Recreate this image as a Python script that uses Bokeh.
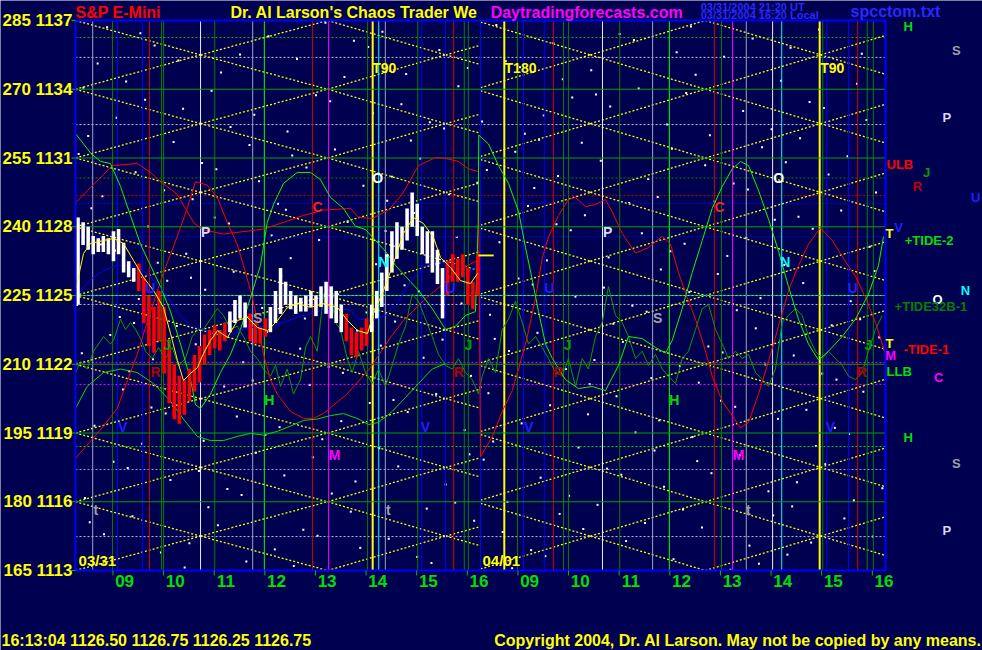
from bokeh.plotting import figure
from bokeh.models import ColumnDataSource
from bokeh.core.properties import value
from bokeh.embed import file_html
from bokeh.resources import INLINE

FONT = "Liberation Sans"
BG = "#000050"

# x = session hours: 0 -> 08:00 03/31, 8 -> 16:00 03/31 == 08:00 04/01, 16 -> 16:00 04/01
T0, T1 = 0.0, 16.0
P0, P1 = 1113.0, 1137.0
hour_pos = [k - 0.03 for k in range(1, 17)]
hour_tick = [k - 0.26 for k in range(1, 17)]
hour_labels = ["09", "10", "11", "12", "13", "14", "15", "16",
               "09", "10", "11", "12", "13", "14", "15", "16"]
price_ticks = [1113, 1116, 1119, 1122, 1125, 1128, 1131, 1134, 1137]
price_labels = ["165 1113", "180 1116", "195 1119", "210 1122", "225 1125",
                "240 1128", "255 1131", "270 1134", "285 1137"]

# ---- vertical time lines (session hours, kind)
vline_t = [0.34, 0.73, 0.83, 1.32, 1.46, 1.70, 1.74, 2.47, 2.75, 3.50, 3.73, 4.68, 5.00,
           5.77, 5.87, 5.99, 6.12, 6.76, 6.84, 7.31, 7.47, 7.68, 7.76, 8.00,
           8.47, 8.73, 8.85, 9.26, 9.44, 9.64, 9.74, 10.41, 10.75, 11.40, 11.73, 12.62,
           12.76, 12.98, 13.25, 13.77, 13.95, 14.70, 14.76, 14.84, 15.27, 15.45, 15.64, 15.76]
vline_kind = ["gr", "dg", "bl", "bl", "rd", "dg", "dg", "wh", "dg", "gr", "lg", "rd", "mg",
              "dg", "ye", "cy", "gr", "dg", "bl", "bl", "rd", "dg", "dg", "bl",
              "ye", "dg", "bl", "bl", "rd", "dg", "dg", "wh", "dg", "gr", "lg", "rd",
              "dg", "mg", "gr", "wh", "cy", "ye", "dg", "bl", "bl", "rd", "dg", "dg"]
KIND_COL = {"gr": "#a0a0c8", "dg": "#008000", "bl": "#0000ff", "rd": "#d00000",
            "wh": "#e8e8ff", "lg": "#00ff00", "mg": "#ff00ff", "ye": "#ffff00", "cy": "#00ffff"}

# ---- horizontal dotted levels
hline_p = [1136.26, 1135.39, 1132.46, 1130.13, 1129.36, 1129.01, 1127.57, 1125.0,
           1124.61, 1122.08, 1121.12, 1118.41, 1117.41, 1114.48]
hline_col = ["#00c000", "#c0c0e0", "#c0c0e0", "#008000", "#c00000", "#0000ff", "#0000ff",
             "#00ffff", "#c0c0e0", "#ff00ff", "#ff00ff", "#00e000", "#a0a0c8", "#c0c0e0"]
green_levels = [1116, 1119, 1122, 1125, 1128, 1131, 1134]

# ---- price/time lattice (yellow dotted)
lat_rows_A = [1110, 1113, 1116, 1119, 1122, 1125, 1128, 1131, 1134, 1137, 1140]
lat_step = 1.5
lat_cols_day1 = [0.0, 2.47, 4.98, 7.31, 9.78]
lat_cols_day2 = [7.90, 10.17, 12.44, 14.72, 16.99]

# ---- curves
red1_t = [0, 0.725, 1.219, 1.481, 1.679, 2.009, 2.331, 2.503, 2.923, 3.318, 3.714, 4.109, 4.504,
          4.899, 5.432, 5.590, 5.861, 6.183, 6.454, 6.775, 7.111, 7.309, 7.565, 7.763, 7.960,
          8.0, 8.231, 8.429, 8.627, 8.751, 8.923, 9.087, 9.219, 9.343, 9.541, 9.738, 9.877,
          10.074, 10.272, 10.469, 10.602, 10.799, 11.062, 11.319, 11.590, 11.753, 11.911,
          12.083, 12.247, 12.405, 12.577, 12.775, 12.972, 13.136, 13.294, 13.492, 13.689,
          13.887, 14.084, 14.281, 14.479, 14.716, 14.947, 15.210, 15.407, 15.605, 15.802,
          15.935, 16.0]
red1_p = [1129.04, 1130.67, 1130.76, 1130.37, 1129.97, 1129.42, 1128.19, 1127.88, 1127.68,
          1127.79, 1127.90, 1128.19, 1128.49, 1128.73, 1128.80, 1128.41, 1128.36, 1128.73,
          1129.42, 1130.67, 1131.02, 1130.98, 1130.85, 1130.52, 1130.41,
          1117.97, 1118.83, 1119.94, 1120.85, 1121.79, 1123.19, 1124.91, 1126.62, 1127.56,
          1128.49, 1129.19, 1129.28, 1128.88, 1128.97, 1129.19, 1128.65, 1127.71, 1126.85,
          1127.09, 1127.59, 1127.24, 1126.00, 1124.91, 1123.97, 1122.88, 1121.48, 1120.39,
          1119.76, 1119.22, 1119.46, 1120.70, 1122.12, 1123.66, 1125.22, 1126.31, 1127.24,
          1127.95, 1127.40, 1126.47, 1125.84, 1124.91, 1123.82, 1122.88, 1122.43]

red2_t = [0, 0.553, 0.824, 1.219, 1.481, 1.738, 2.009, 2.206, 2.370, 2.601, 2.799, 2.997,
          3.194, 3.318, 3.457, 3.589, 3.714, 3.852, 3.984, 4.247, 4.504, 4.701, 4.899, 5.373,
          5.827, 6.222, 6.479, 6.874, 7.269, 7.546, 7.941]
red2_p = [1117.89, 1119.30, 1120.07, 1122.43, 1124.30, 1126.00, 1127.57, 1128.80, 1129.97,
          1129.82, 1129.28, 1128.19, 1127.24, 1126.31, 1125.22, 1123.97, 1122.43, 1121.33,
          1120.70, 1119.94, 1119.64, 1119.64, 1119.85, 1120.72, 1121.86, 1123.17, 1123.91,
          1124.78, 1125.52, 1126.09, 1126.53]

tide2_t = [0, 0.296, 0.494, 0.691, 0.889, 1.086, 1.284, 1.481, 1.679, 1.877, 2.074, 2.272,
           2.370, 2.469, 2.667, 2.864, 3.062, 3.259, 3.457, 3.654, 3.787, 3.911, 4.109, 4.379,
           4.642, 4.839, 5.037, 5.294, 5.432, 5.531, 5.728, 5.926, 6.123, 6.321, 6.519, 6.775,
           7.046, 7.309, 7.506, 7.704, 7.901, 7.955, 7.966, 8.158, 8.356, 8.553, 8.751, 8.889,
           9.021, 9.146, 9.284, 9.417, 9.679, 9.936, 10.207, 10.469, 10.726, 10.923, 11.194,
           11.457, 11.654, 11.787, 11.984, 12.182, 12.380, 12.577, 12.775, 12.972, 13.136,
           13.294, 13.492, 13.689, 13.887, 14.084, 14.281, 14.479, 14.677, 14.874, 15.145,
           15.407, 15.664, 15.862, 15.960]
tide2_p = [1132.07, 1131.22, 1130.85, 1130.76, 1129.76, 1128.49, 1127.24, 1126.31, 1125.39,
           1124.30, 1122.88, 1121.33, 1120.24, 1120.07, 1120.70, 1121.64, 1122.43, 1123.52,
           1124.91, 1126.31, 1128.19, 1128.97, 1129.89, 1130.37, 1130.37, 1130.06, 1129.28,
           1128.80, 1128.33, 1128.02, 1127.88, 1127.40, 1126.93, 1126.31, 1125.84, 1125.22,
           1124.43, 1123.52, 1123.66, 1124.13, 1124.30, 1128.19, 1132.00, 1131.61, 1130.67,
           1129.89, 1128.67, 1127.09, 1125.70, 1124.30, 1122.88, 1122.26, 1121.33, 1120.94,
           1121.03, 1120.85, 1121.95, 1123.21, 1123.12, 1122.73, 1122.49, 1123.04, 1124.43,
           1126.00, 1127.40, 1128.80, 1129.76, 1130.52, 1130.85, 1130.67, 1129.58, 1128.33,
           1126.93, 1125.39, 1123.97, 1122.88, 1122.18, 1122.57, 1123.21, 1123.97, 1125.06,
           1126.31, 1127.57]

low_t = [0, 0.231, 0.553, 0.889, 1.219, 1.541, 1.877, 2.133, 2.404, 2.667, 2.923, 3.194,
         3.457, 3.714, 3.984, 4.247, 4.504, 4.775, 5.037, 5.294, 5.590, 5.788, 5.985, 6.256,
         6.519, 6.775, 7.046, 7.309]
low_p = [1120.07, 1121.03, 1121.64, 1121.79, 1121.64, 1121.16, 1120.39, 1119.61, 1118.85,
         1118.67, 1118.67, 1118.85, 1118.98, 1118.91, 1119.07, 1119.30, 1119.55, 1119.61,
         1119.76, 1119.85, 1119.61, 1119.37, 1119.46, 1119.94, 1120.55, 1121.16, 1121.79,
         1122.03]

tide32_t = [0, 0.099, 0.231, 0.356, 0.454, 0.553, 0.691, 0.751, 0.889, 0.988, 1.086, 1.185,
            1.284, 1.383, 1.515, 1.640, 1.778, 1.910, 2.035, 2.173, 2.305, 2.430, 2.528, 2.667,
            2.799, 2.923, 3.062, 3.194, 3.318, 3.457, 3.589, 3.714, 3.852, 3.951, 4.049, 4.182,
            4.306, 4.444, 4.543, 4.642, 4.775, 4.899, 5.037, 5.136, 5.234, 5.367, 5.466, 5.590,
            5.728, 5.861, 5.985, 6.123, 6.256, 6.380, 6.519, 6.651, 6.775, 6.914, 7.046, 7.170,
            7.309, 7.441, 7.565, 7.704, 7.836, 7.961, 8.034, 8.158, 8.296, 8.429, 8.553, 8.691,
            8.824, 8.948, 9.087, 9.219, 9.343, 9.481, 9.614, 9.738, 9.877, 10.009, 10.133,
            10.272, 10.404, 10.528, 10.667, 10.799, 10.923, 11.062, 11.194, 11.319, 11.457,
            11.590, 11.714, 11.852, 11.984, 12.109, 12.247, 12.380, 12.504, 12.642, 12.775,
            12.899, 13.037, 13.170, 13.294, 13.432, 13.565, 13.689, 13.827, 13.960, 14.084,
            14.222, 14.355, 14.479, 14.617, 14.750, 14.874, 15.012, 15.145, 15.269, 15.407,
            15.540, 15.664, 15.802, 15.935]
tide32_p = [1121.64, 1122.12, 1121.79, 1122.57, 1122.88, 1123.21, 1122.88, 1123.04, 1123.97,
            1123.52, 1123.82, 1123.52, 1123.12, 1122.57, 1122.25, 1122.73, 1122.25, 1122.73,
            1121.95, 1122.25, 1123.21, 1123.52, 1123.52, 1123.97, 1124.43, 1124.13, 1123.52,
            1123.66, 1123.21, 1122.57, 1122.25, 1121.79, 1121.48, 1121.95, 1121.03, 1121.79,
            1120.70, 1121.33, 1122.73, 1123.21, 1122.57, 1125.06, 1125.22, 1123.82, 1123.52,
            1122.25, 1121.64, 1122.57, 1121.64, 1121.16, 1121.79, 1121.03, 1121.95, 1122.88,
            1123.66, 1125.06, 1124.75, 1123.97, 1123.21, 1122.43, 1121.95, 1121.79, 1122.25,
            1121.64, 1121.33, 1120.70, 1121.48, 1122.25, 1121.64, 1123.52, 1123.97, 1124.75,
            1123.82, 1122.88, 1123.21, 1122.73, 1122.25, 1121.64, 1121.48, 1122.25, 1121.03,
            1122.25, 1121.79, 1123.21, 1123.82, 1125.39, 1124.13, 1123.82, 1123.21, 1122.25,
            1122.57, 1121.95, 1122.43, 1121.79, 1121.48, 1121.16, 1122.25, 1122.57, 1123.52,
            1124.43, 1124.61, 1123.52, 1122.88, 1122.25, 1122.57, 1122.25, 1122.43, 1121.64,
            1121.33, 1121.03, 1121.79, 1123.82, 1124.13, 1124.43, 1124.13, 1123.21, 1122.57,
            1122.25, 1122.57, 1122.25, 1121.95, 1121.48, 1121.33, 1121.64, 1122.57, 1123.52,
            1124.13]

blue_t = [0, 0.296, 0.553, 0.824, 1.086, 1.343, 1.614, 1.877, 2.074, 2.272, 2.528, 2.799,
          3.062, 3.318, 3.589, 3.852, 4.109, 4.379, 4.642, 4.899, 5.169, 5.432, 5.590, 5.861,
          6.123, 6.380, 6.651, 6.914, 7.170, 7.441, 7.704, 7.961]
blue_p = [1124.91, 1125.70, 1126.09, 1126.31, 1126.31, 1126.09, 1125.52, 1124.75, 1124.13,
          1123.66, 1123.52, 1123.27, 1123.27, 1123.52, 1123.66, 1123.66, 1123.82, 1124.05,
          1124.21, 1124.36, 1124.43, 1124.36, 1123.97, 1123.91, 1124.13, 1124.75, 1125.70,
          1126.31, 1126.47, 1126.31, 1126.00, 1126.31]

ma_t = [0, 0.158, 0.296, 0.553, 0.751, 0.948, 1.146, 1.343, 1.541, 1.738, 1.877, 2.015,
        2.133, 2.272, 2.410, 2.528, 2.667, 2.805, 3.002, 3.200, 3.398, 3.595, 3.793, 3.990,
        4.188, 4.385, 4.642, 4.899, 5.175, 5.373, 5.570, 5.768, 5.886, 6.084, 6.281, 6.479,
        6.677, 6.874, 7.072, 7.210, 7.407, 7.605, 7.802, 7.941]
ma_p = [1125.22, 1126.83, 1127.27, 1127.40, 1127.49, 1127.27, 1126.53, 1125.79, 1125.22,
        1124.48, 1123.34, 1122.16, 1121.29, 1121.60, 1121.86, 1122.47, 1123.04, 1123.47,
        1123.17, 1123.91, 1124.04, 1123.60, 1123.47, 1123.91, 1124.48, 1124.65, 1124.48,
        1124.65, 1124.48, 1123.91, 1123.47, 1123.34, 1124.21, 1125.22, 1126.40, 1127.71,
        1128.40, 1128.14, 1127.53, 1126.66, 1126.22, 1125.65, 1125.52, 1125.96]

# ---- price bars, 6-minute bars on 03/31
bar_t = [0.05 + 0.1 * i for i in range(80)]
bar_hi = [1128.4, 1128.2, 1128.0, 1127.6, 1127.5, 1127.6, 1127.5, 1127.8, 1127.9, 1127.3,
          1126.5, 1126.2, 1126.4, 1125.8, 1125.0, 1124.5, 1125.2, 1124.5, 1123.0, 1122.0,
          1121.5, 1121.3, 1121.8, 1122.4, 1122.8, 1123.3, 1123.5, 1123.7, 1123.5, 1123.8,
          1124.3, 1124.8, 1125.0, 1124.7, 1124.2, 1123.8, 1123.6, 1124.0, 1124.5, 1125.2,
          1126.2, 1125.6, 1125.2, 1125.0, 1124.9, 1125.0, 1125.2, 1125.0, 1125.4, 1125.6,
          1125.4, 1125.2, 1124.6, 1124.2, 1123.6, 1123.4, 1123.6, 1124.0, 1124.6, 1125.2,
          1126.0, 1126.8, 1127.8, 1128.2, 1128.0, 1128.8, 1129.5, 1129.0, 1128.0, 1127.8,
          1127.8, 1127.0, 1126.2, 1126.5, 1126.8, 1126.6, 1126.8, 1126.2, 1125.6, 1126.8]
bar_lo = [1124.6, 1127.2, 1127.0, 1126.8, 1126.9, 1126.9, 1126.8, 1126.5, 1126.8, 1126.0,
          1125.8, 1125.6, 1125.2, 1123.8, 1122.8, 1122.5, 1123.0, 1121.6, 1120.3, 1119.6,
          1119.4, 1119.8, 1120.4, 1120.8, 1121.2, 1122.0, 1122.4, 1122.7, 1122.6, 1123.0,
          1123.4, 1123.8, 1124.0, 1123.6, 1123.0, 1122.9, 1122.9, 1123.2, 1123.4, 1123.8,
          1124.2, 1124.6, 1124.4, 1124.2, 1124.3, 1124.3, 1124.5, 1124.1, 1124.5, 1124.2,
          1124.0, 1123.8, 1123.4, 1123.0, 1122.4, 1122.3, 1122.6, 1122.8, 1123.4, 1124.0,
          1124.5, 1125.2, 1126.0, 1126.6, 1127.0, 1127.4, 1128.0, 1127.6, 1126.8, 1126.4,
          1126.0, 1125.5, 1124.0, 1125.0, 1125.6, 1125.6, 1125.8, 1124.6, 1124.4, 1125.0]
bar_up = [1] * 12 + [0] * 18 + [1] * 4 + [0] * 4 + [1] * 15 + [0] * 5 + [1] * 15 + [0] * 7
last_price = 1126.75

# ---- symbols inside the chart
sym_text = ["T90", "T180", "T90", "O", "O", "C", "C", "P", "P", "N", "N",
            "U", "U", "U", "U", "S", "S", "J", "J", "J", "J", "R", "R", "R", "R",
            "H", "H", "V", "V", "V", "V", "M", "M", "t", "t", "t"]
sym_t = [6.10, 8.79, 14.95, 5.97, 13.89, 4.78, 12.72, 2.57, 10.51, 6.08, 14.02,
         1.48, 7.41, 9.36, 15.35, 3.60, 11.50, 1.82, 7.76, 9.72, 15.66, 1.58, 7.57, 9.54, 15.53,
         3.83, 11.83, 0.93, 6.91, 8.95, 14.91, 5.12, 13.10, 0.40, 6.18, 13.29]
sym_p = [1134.91, 1134.91, 1134.91, 1130.11, 1130.11, 1128.88, 1128.88, 1127.75, 1127.75,
         1126.48, 1126.48, 1125.31, 1125.31, 1125.31, 1125.31, 1124.04, 1124.04,
         1122.86, 1122.86, 1122.86, 1122.86, 1121.68, 1121.68, 1121.68, 1121.68,
         1120.46, 1120.46, 1119.28, 1119.28, 1119.28, 1119.28, 1118.06, 1118.06,
         1115.62, 1115.62, 1115.62]
SYM_COL = {"T90": "#ffff00", "T180": "#ffff00", "O": "#ffffff", "C": "#ff2020", "P": "#d8d8ff",
           "N": "#00ffff", "U": "#2020ff", "S": "#a0a0a8", "J": "#00a000", "R": "#b00000",
           "H": "#00e000", "V": "#2020ff", "M": "#ff00ff", "t": "#a0a0a8"}

# ---- legend column right of the chart
side_text = ["H", "S", "P", "ULB", "J", "R", "U", "V", "T", "+TIDE-2", "N", "O", "+TIDE32B-1",
             "T", "-TIDE-1", "M", "LLB", "C", "H", "S", "P"]
side_t = [16.45, 17.40, 17.21, 16.02, 16.81, 16.63, 17.78, 16.26, 16.08, 16.38, 17.58, 17.03,
          16.18, 16.08, 16.36, 16.10, 16.02, 17.05, 16.45, 17.40, 17.21]
side_p = [1136.74, 1135.69, 1132.77, 1130.72, 1130.37, 1129.76, 1129.28, 1127.97, 1127.71,
          1127.40, 1125.22, 1124.83, 1124.52, 1122.91, 1122.64, 1122.38, 1121.68, 1121.42,
          1118.80, 1117.67, 1114.75]
side_col = ["#00e000", "#a0a0a8", "#d8d8ff", "#ff0000", "#00a000", "#c00000", "#2020ff",
            "#2020ff", "#ffff00", "#00e000", "#00ffff", "#ffffff", "#008000", "#ffff00",
            "#ff0000", "#ff00ff", "#00e000", "#ff00ff", "#00e000", "#a0a0a8", "#d8d8ff"]
side_align = ["center", "center", "center", "left", "center", "center", "center", "center",
              "center", "left", "center", "center", "left", "center", "left", "center",
              "left", "center", "center", "center", "center"]

# ---- header / footer
head_text = ["S&P E-Mini", "Dr. Al Larson's Chaos Trader We", "Daytradingforecasts.com",
             "03/31/2004 21:20 UT", "03/31/2004 16:20 Local", "spcctom.txt"]
head_t = [0.0, 3.06, 8.20, 12.35, 12.35, 15.31]
head_p = [1137.35, 1137.35, 1137.35, 1137.61, 1137.22, 1137.39]
head_col = ["#ff0000", "#ffff00", "#ff00ff", "#2828ff", "#2828ff", "#2828ff"]
head_size = ["16px", "16px", "16px", "11px", "11px", "16px"]
foot_left = "16:13:04  1126.50 1126.75 1126.25 1126.75"
foot_right = "Copyright 2004, Dr. Al Larson. May not be copied by any means."


def halton(i, b):
    f, r = 1.0, 0.0
    while i > 0:
        f /= b
        r += f * (i % b)
        i //= b
    return r


# background star-field texture
star_t = [16 * halton(i, 2) for i in range(1, 330)]
star_p = [1113 + 24 * halton(i, 3) for i in range(1, 330)]

# canvas 982x650 px; chart box spans pixels 75..885 x 20..570
px_t = 50.625       # px per hour
px_p = 550 / 24.0   # px per point
x_lo, x_hi = T0 - 75 / px_t, T1 + (982 - 885) / px_t
y_lo, y_hi = P0 - 80 / px_p, P1 + 20 / px_p

p = figure(width=982, height=650, x_range=(x_lo, x_hi), y_range=(y_lo, y_hi),
           x_axis_type=None, y_axis_type=None,
           output_backend="svg", toolbar_location=None,
           background_fill_color=BG, border_fill_color=BG, min_border=0)
p.outline_line_color = None
p.grid.visible = False

TXT = dict(text_font=value(FONT), text_font_style="bold")

# stars
p.scatter(star_t, star_p, marker="square", size=2, color="#ffffff", line_color=None)

# horizontal dotted levels
p.segment(x0=[T0] * len(hline_p), x1=[T1] * len(hline_p), y0=hline_p, y1=hline_p,
          line_color=hline_col, line_width=1, line_dash="2 2")


def clip_seg(x0, y0, x1, y1, xmin, xmax, ymin, ymax):
    dx, dy = x1 - x0, y1 - y0
    u0, u1 = 0.0, 1.0
    for pp, q in ((-dx, x0 - xmin), (dx, xmax - x0), (-dy, y0 - ymin), (dy, ymax - y0)):
        if pp == 0:
            if q < 0:
                return None
        else:
            r = q / pp
            if pp < 0:
                u0 = max(u0, r)
            else:
                u1 = min(u1, r)
    if u0 >= u1:
        return None
    return [x0 + u0 * dx, x0 + u1 * dx], [y0 + u0 * dy, y0 + u1 * dy]


lat_xs, lat_ys = [], []
for cols, lo, hi in ((lat_cols_day1, 0, 8), (lat_cols_day2, 8, 16)):
    for i in range(len(cols) - 1):
        off = 0 if i % 2 == 0 else lat_step
        for r in lat_rows_A:
            r0 = r - off
            for d in (lat_step, -lat_step):
                s = clip_seg(cols[i], r0, cols[i + 1], r0 + d, lo, hi, P0, P1)
                if s:
                    lat_xs.append(s[0])
                    lat_ys.append(s[1])
p.multi_line(lat_xs, lat_ys, line_color="#ffff00", line_width=1.3, line_dash="2 2")

# vertical lines
vcols = [KIND_COL[k] for k in vline_kind]
vw = [2 if k == "ye" else 1 for k in vline_kind]
p.segment(x0=vline_t, x1=vline_t, y0=[P0] * len(vline_t), y1=[P1] * len(vline_t),
          line_color=vcols, line_width=vw)

# green solid levels
p.segment(x0=[T0] * len(green_levels), x1=[T1] * len(green_levels), y0=green_levels,
          y1=green_levels, line_color="#00a000", line_width=1)
p.segment(x0=[T0], x1=[T1], y0=[1125], y1=[1125], line_color="#00ffff", line_dash="2 2")

# curves
p.line(tide32_t, tide32_p, line_color="#00a000", line_width=1)
p.line(low_t, low_p, line_color="#00e000", line_width=1)
p.line(red2_t, red2_p, line_color="#ff0000", line_width=1)
p.line(red1_t, red1_p, line_color="#ff0000", line_width=1)
p.line(tide2_t, tide2_p, line_color="#00ff00", line_width=1)
p.line(blue_t, blue_p, line_color="#0000ff", line_width=1)

# price bars
bar_col = ["#ffffff" if u else "#ff0000" for u in bar_up]
p.vbar(x=bar_t, top=bar_hi, bottom=bar_lo, width=0.07, fill_color=bar_col, line_color=None)
p.line(ma_t, ma_p, line_color="#ffff00", line_width=1)
p.segment(x0=[7.96], x1=[8.26], y0=[last_price], y1=[last_price], line_color="#ffff00",
          line_width=2)

# chart box
p.quad(left=[T0], right=[T1], bottom=[P0], top=[P1], fill_color=None,
       line_color="#0000ff", line_width=2)

# price scale: ticks + labels
p.segment(x0=[T0 - 4 / px_t] * len(price_ticks), x1=[T0] * len(price_ticks),
          y0=price_ticks, y1=price_ticks, line_color="#00c000", line_width=1)
p.text(x=[T0 - 3 / px_t] * len(price_ticks), y=price_ticks, text=price_labels,
       text_color="#ffff00", text_font_size="17px", text_align="right",
       text_baseline="alphabetic", **TXT)

# time scale: ticks + labels
p.segment(x0=hour_tick, x1=hour_tick, y0=[P0] * 16, y1=[P0 - 5 / px_p] * 16,
          line_color="#00c000", line_width=1)
p.text(x=hour_pos, y=[P0 - 10.5 / px_p] * 16, text=hour_labels, text_color="#00e000",
       text_font_size="17px", text_align="center", text_baseline="middle", **TXT)

# symbols
src = ColumnDataSource(dict(x=sym_t, y=sym_p, text=sym_text,
                            c=[SYM_COL[s] for s in sym_text]))
p.text(x="x", y="y", text="text", text_color="c", source=src, text_font_size="14px",
       text_align="center", text_baseline="middle", **TXT)
p.text(x=[0.06, 8.04], y=[1113.44, 1113.44], text=["03/31", "04/01"], text_color="#ffff00",
       text_font_size="15px", text_align="left", text_baseline="middle", **TXT)

# side legend
sides = ColumnDataSource(dict(x=side_t, y=side_p, text=side_text, c=side_col, a=side_align))
p.text(x="x", y="y", text="text", text_color="c", text_align="a", source=sides,
       text_font_size="13px", text_baseline="middle", **TXT)

# header
heads = ColumnDataSource(dict(x=head_t, y=head_p, text=head_text, c=head_col, s=head_size))
p.text(x="x", y="y", text="text", text_color="c", text_font_size="s", source=heads,
       text_align="left", text_baseline="middle", **TXT)

# footer
p.text(x=[x_lo + 1 / px_t], y=[P0 - 70 / px_p], text=[foot_left], text_color="#ffff00",
       text_font_size="16px", text_align="left", text_baseline="middle", **TXT)
p.text(x=[x_hi - 1 / px_t], y=[P0 - 70 / px_p], text=[foot_right], text_color="#ffff00",
       text_font_size="16px", text_align="right", text_baseline="middle", **TXT)

open("out.html", "w").write(file_html(p, INLINE))
